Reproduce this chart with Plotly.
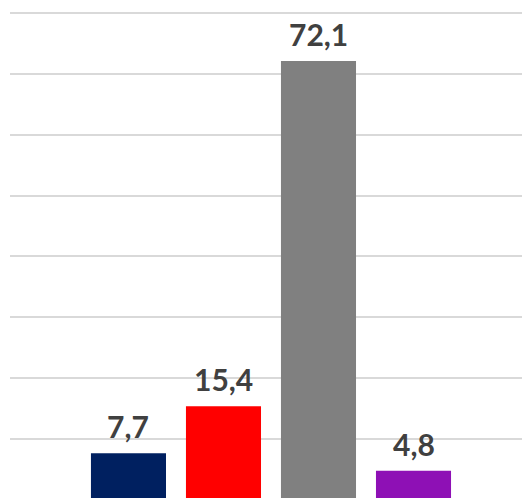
import plotly.graph_objects as go

categories = ["A", "B", "C", "D"]
values = [7.7, 15.4, 72.1, 4.8]
colors = ["#002060", "#FF0000", "#808080", "#8E10B5"]
labels = ["7,7", "15,4", "72,1", "4,8"]

fig = go.Figure(go.Bar(
    x=categories, y=values, marker_color=colors, marker_line_width=0,
    cliponaxis=False, hoverinfo="skip",
))
for c, v, t in zip(categories, values, labels):
    fig.add_annotation(x=c, y=v, text=t, showarrow=False, yanchor="bottom",
                       yshift=7,
                       font=dict(family="Lato", size=30, color="#404040", weight="bold"))
fig.update_layout(
    width=522, height=498, margin=dict(l=10, r=0, t=0, b=0),
    plot_bgcolor="white", paper_bgcolor="white", bargap=0.21,
    showlegend=False,
    xaxis=dict(range=[-1.247, 4.142], showticklabels=False, showgrid=False,
               zeroline=False, showline=False, ticks=""),
    yaxis=dict(range=[0.33, 82.13], dtick=10, tick0=0, showticklabels=False,
               showgrid=True, gridcolor="#D9D9D9", gridwidth=1.5,
               zeroline=False, showline=False, ticks=""),
)
fig.write_html("out.html", config={"displayModeBar": False},
               post_script="document.body.style.margin='0';document.body.style.overflow='hidden';")
